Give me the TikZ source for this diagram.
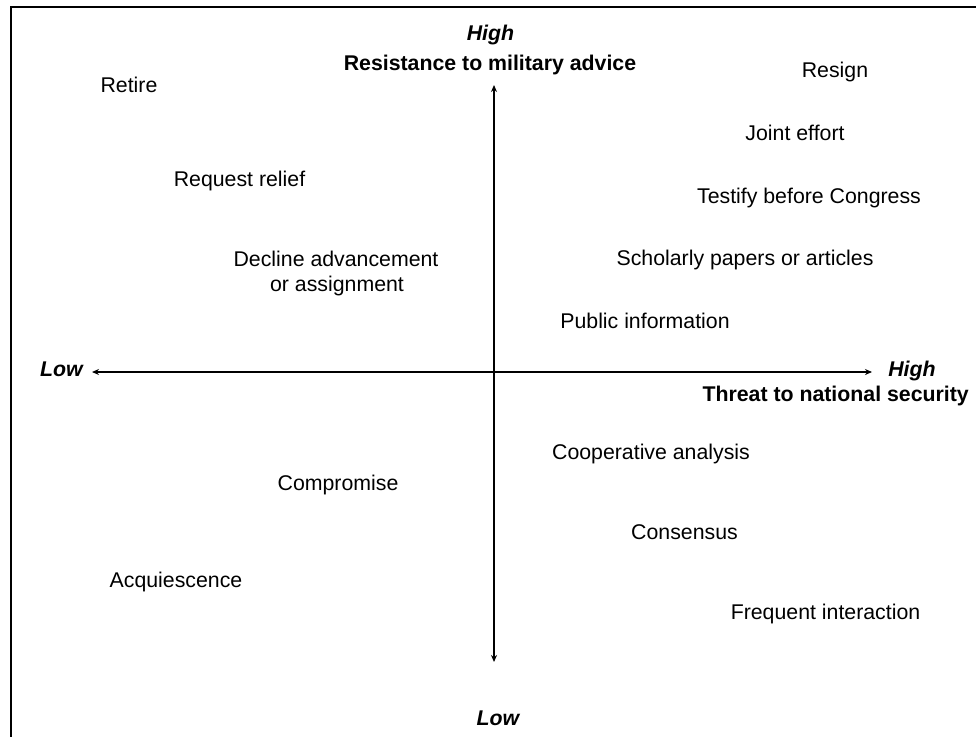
\documentclass[tikz,border=0pt]{standalone}
\usepackage{fontspec}
\setmainfont{Liberation Sans}
\usetikzlibrary{arrows.meta}
\begin{document}
\begin{tikzpicture}[x=1pt,y=-1pt,
  lbl/.style={inner sep=0pt,anchor=base,font=\fontsize{21.3}{25}\selectfont},
  axlbl/.style={lbl,font=\fontsize{21.3}{25}\selectfont\bfseries},
  endlbl/.style={lbl,font=\fontsize{21.3}{25}\selectfont\bfseries\itshape},
  axis/.style={line width=1.3pt,{Stealth[length=7pt,width=6pt]}-{Stealth[length=7pt,width=6pt]}},
  frame/.style={line width=2.8pt}]
\useasboundingbox (0,0) rectangle (976,736);
\clip (0,0) rectangle (976,736);
\draw[frame] (11,760) -- (11,7) -- (1000,7);
% axes
\coordinate (vtop) at (494,85);
\coordinate (vbot) at (494,662);
\coordinate (hleft) at (92,372);
\coordinate (hright) at (872,372);
\draw[axis] (vbot) -- (vtop);
\draw[axis] (hleft) -- (hright);
% axis labels
\node[endlbl] (hightop) at (490.5,40.7) {High};
\node[axlbl] (resist) at (490,70) {Resistance to military advice};
\node[endlbl] (lowleft) at (61.5,376.7) {Low};
\node[endlbl] (highright) at (912,376.7) {High};
\node[axlbl,anchor=base east] (threat) at (969,401.7) {Threat to national security};
\node[endlbl] (lowbot) at (498,725) {Low};
% items
\node[lbl] (retire) at (129,92.7) {Retire};
\node[lbl] (resign) at (835,77.3) {Resign};
\node[lbl] (joint) at (795,140) {Joint effort};
\node[lbl] (request) at (239.5,186.7) {Request relief};
\node[lbl] (testify) at (809,203) {Testify before Congress};
\node[lbl] (decline) at (336,266.7) {Decline advancement};
\node[lbl] (decline2) at (337,291.7) {or assignment};
\node[lbl] (scholar) at (745,265) {Scholarly papers or articles};
\node[lbl] (public) at (645,328) {Public information};
\node[lbl] (coop) at (651,459) {Cooperative analysis};
\node[lbl] (compromise) at (338,490) {Compromise};
\node[lbl] (consensus) at (684.5,539) {Consensus};
\node[lbl] (acq) at (176,587) {Acquiescence};
\node[lbl] (freq) at (825.5,619) {Frequent interaction};
\end{tikzpicture}
\end{document}
